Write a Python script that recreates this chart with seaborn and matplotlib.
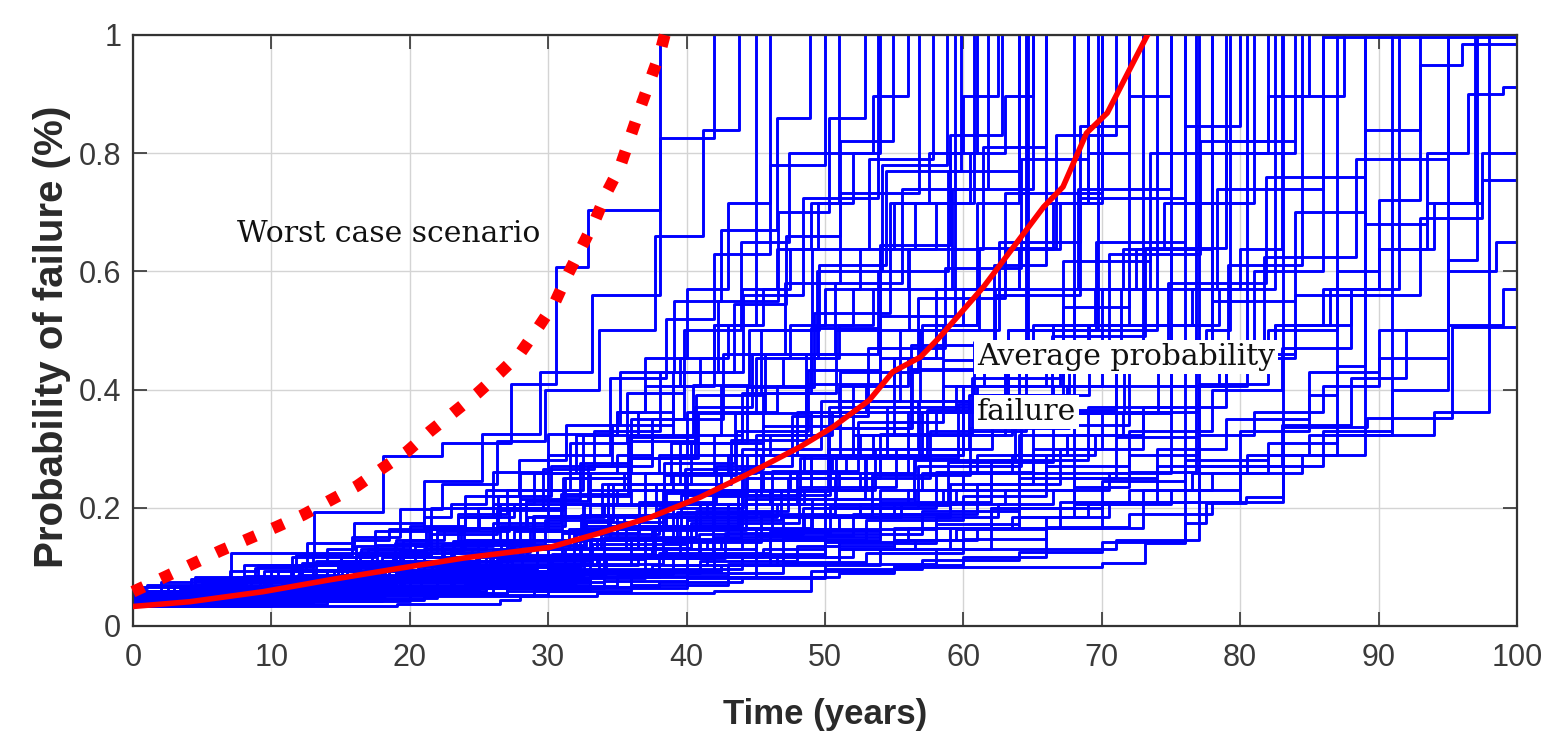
import numpy as np
import pandas as pd
import matplotlib
matplotlib.use("Agg")
import matplotlib.pyplot as plt
import seaborn as sns

# ---------------- data ----------------
x_ticks = [0, 10, 20, 30, 40, 50, 60, 70, 80, 90, 100]
y_ticks = [0, 0.2, 0.4, 0.6, 0.8, 1.0]
y_tick_labels = ["0", "0.2", "0.4", "0.6", "0.8", "1"]

avg_time = [0, 4.1, 9.4, 14.2, 19.1, 23.9, 27.0, 30.1, 33.7, 37.4, 41.0, 44.6, 48.2, 50.6,
            53.2, 54.9, 56.9, 58.3, 61.5, 65.8, 67.2, 68.9, 70.4, 72.0, 73.3]
avg_prob = [0.033, 0.041, 0.058, 0.078, 0.097, 0.115, 0.124, 0.133, 0.157, 0.184, 0.218, 0.259,
            0.303, 0.337, 0.382, 0.430, 0.455, 0.489, 0.575, 0.709, 0.743, 0.834, 0.868, 0.941, 1.0]

worst_time = [0, 2.4, 4.3, 6.3, 8.3, 10.4, 12.3, 14.2, 16.2, 18.1, 19.8, 21.5, 23.1, 24.9, 26.5,
              28.0, 29.4, 30.5, 31.4, 32.4, 33.4, 34.2, 35.2, 36.6, 38.1, 38.7]
worst_prob = [0.058, 0.084, 0.105, 0.127, 0.147, 0.168, 0.188, 0.212, 0.237, 0.268, 0.295, 0.330,
              0.360, 0.394, 0.428, 0.462, 0.509, 0.548, 0.594, 0.640, 0.687, 0.732, 0.777, 0.873,
              0.971, 1.025]

# simulated runs: (time of jump, new probability)
run01 = [(0,.065),(1,.07),(7.1,.124),(13.1,.193),(18.1,.288),(22.3,.31),(27.3,.41),(30.6,.608),(32.9,.704),(38.1,1.05)]
run02 = [(0,.06),(4.2,.08),(8,.103),(12.6,.14),(16,.175),(21,.245),(25.2,.324),(29.4,.43),(33.2,.56),(38.1,.826),(42,1.05)]
run03 = [(0,.055),(5.3,.079),(8.8,.098),(11.8,.12),(15.8,.15),(19.3,.198),(22.3,.24),(26.3,.313),(29.8,.4),(33.7,.5),(37.7,.66),(41.2,.84),(43.8,1.05)]
run04 = [(0,.05),(3.4,.062),(7.8,.08),(12.2,.106),(16.1,.135),(20,.17),(24,.22),(27.9,.28),(31.3,.34),(35.2,.43),(39.1,.55),(42.5,.67),(46.5,.86),(48.9,1.05)]
run05 = [(0,.06),(4.5,.078),(9,.1),(13,.124),(17.5,.16),(21.5,.2),(26,.26),(30,.324),(34.5,.42),(38.5,.52),(42,.63),(46,.78),(50,1.05)]
run06 = [(0,.045),(5.1,.061),(9.2,.078),(14.8,.11),(18.9,.14),(23.5,.19),(27,.23),(31.6,.31),(35.7,.394),(39.8,.5),(43.9,.65),(47.4,.8),(51,1.05)]
run07 = [(0,.05),(3.2,.06),(7.4,.076),(11.6,.095),(16.4,.126),(21.2,.165),(24.9,.2),(29.6,.265),(33.3,.33),(38.1,.43),(42.3,.55),(46.6,.7),(50.3,.86),(52.9,1.05)]
run08 = [(0,.04),(5.9,.056),(10.8,.076),(15.1,.1),(18.8,.123),(23.7,.165),(28,.215),(32.3,.276),(36,.35),(39.8,.43),(44.1,.56),(48.4,.725),(53.8,1.05)]
run09 = [(0,.055),(4.4,.07),(8.2,.085),(13.2,.11),(17.6,.137),(21.4,.165),(26.4,.22),(30.2,.27),(34.6,.34),(39,.43),(43.4,.545),(47.2,.66),(51.1,.82),(54.9,1.05)]
run10 = [(0,.045),(5.1,.06),(9.7,.076),(14.8,.1),(19.3,.128),(23.9,.165),(28.4,.212),(32.9,.27),(37.5,.35),(42.6,.46),(47.1,.58),(51.1,.733),(56.8,1.05)]
run11 = [(0,.05),(6.9,.07),(12.1,.095),(17.3,.123),(22,.16),(27.2,.2),(31.2,.25),(35.8,.32),(40.5,.407),(44.5,.5),(49.1,.638),(53.2,.79),(57.8,1.05)]
run12 = [(0,.04),(4.1,.05),(8.8,.065),(13.5,.084),(17.6,.105),(22.3,.137),(26.5,.17),(31.2,.22),(35.9,.285),(40.6,.37),(44.7,.46),(49.4,.6),(54.1,.78),(58.8,1.05)]
run13 = [(0,.055),(6,.074),(11.4,.095),(16.1,.12),(21.5,.155),(26.3,.197),(31.1,.25),(35.9,.313),(40.7,.39),(45.4,.5),(49.6,.61),(54.4,.77),(59.8,1.05)]
run14 = [(0,.035),(5.5,.047),(10.3,.062),(15.2,.081),(20.1,.105),(24.9,.138),(29.8,.18),(34.7,.24),(39.5,.31),(44.4,.405),(49.2,.53),(54.7,.715),(60.8,1.05)]
run15 = [(0,.05),(4.9,.063),(9.9,.08),(15.5,.106),(20.4,.135),(26,.175),(30.9,.224),(35.8,.285),(40.8,.36),(45.7,.46),(50.7,.58),(55.6,.74),(61.8,1.05)]
run16 = [(0,.045),(6.9,.063),(12.6,.084),(18.2,.11),(23.2,.14),(28.9,.186),(33.9,.24),(38.9,.31),(44,.394),(49,.505),(54,.645),(59,.83),(62.8,1.05)]
run17 = [(0,.04),(6.4,.055),(11.5,.07),(17.3,.095),(22.4,.123),(27.5,.16),(32.6,.205),(38.4,.276),(43.5,.36),(48.6,.46),(53.8,.6),(58.9,.77),(64,1.05)]
run18 = [(0,.035),(5.2,.046),(11,.062),(16.9,.084),(22.1,.11),(27.3,.143),(32.5,.187),(38.4,.255),(43.6,.33),(48.8,.433),(54,.57),(59.2,.74),(65,1.05)]
run19 = [(0,.05),(5.9,.065),(11.9,.087),(17.2,.11),(23.1,.143),(29,.186),(34.3,.24),(40.3,.31),(45.5,.395),(50.8,.5),(56.1,.638),(61.4,.81),(66,1.05)]
run20 = [(0,.04),(4.7,.05),(10.1,.065),(16.2,.087),(21.6,.11),(27,.145),(32.4,.187),(37.8,.24),(43.2,.315),(48.6,.41),(54,.525),(59.4,1.05)]
run21 = [(0,.035),(6.9,.049),(13.1,.066),(19.3,.09),(24.8,.117),(31,.158),(36.6,.21),(42.1,.27),(47.6,.355),(53.1,.47),(58.7,.605),(64.2,.79),(69,1.05)]
run22 = [(0,.045),(5.6,.058),(11.2,.074),(16.8,.095),(23.1,.126),(28.7,.16),(34.3,.205),(39.9,.265),(45.5,.338),(51.1,.43),(56.7,.555),(63,.733),(70,1.05)]
run23 = [(0,.04),(7.8,.056),(14.2,.076),(20.6,.1),(27,.136),(32.7,.176),(38.3,.228),(44,.3),(49.7,.38),(55.4,.5),(61.1,.64),(66.7,.83),(71,1.05)]
run24 = [(0,.035),(5,.044),(10.8,.058),(16.6,.076),(22.3,.1),(28.1,.13),(33.8,.17),(39.6,.221),(45.4,.29),(51.1,.38),(56.9,.5),(62.6,.65),(68.4,.846),(72,1.05)]
run25 = [(0,.045),(6.7,.06),(13.3,.08),(20,.105),(26.6,.137),(32.6,.17),(38.5,.225),(44.4,.289),(50.3,.37),(56.2,.475),(62.2,.61),(66,1.05)]
run26 = [(0,.035),(7.5,.049),(13.5,.064),(19.5,.084),(26.3,.113),(32.3,.147),(38.3,.19),(44.3,.25),(50.3,.335),(56.3,.433),(62.3,.57),(68.3,.74),(75,1.05)]
run27 = [(0,.04),(6.1,.052),(12.9,.07),(19,.089),(25.8,.12),(31.9,.155),(38,.2),(44.1,.26),(50.2,.335),(56.2,.435),(62.3,.56),(68.4,.725),(76,1.05)]
run28 = [(0,.035),(6.9,.047),(13.1,.062),(20,.084),(26.2,.11),(33.1,.147),(39.3,.193),(46.2,.262),(52.4,.345),(58.5,.45),(64.7,1.05)]
run29 = [(0,.04),(8.7,.057),(15.8,.076),(22.9,.1),(29.2,.13),(35.6,.17),(41.9,.22),(48.2,.285),(54.5,.37),(60.8,.48),(67.2,.617),(73.5,.8),(79,1.05)]
run30 = [(0,.035),(5.6,.045),(12,.058),(18.4,.076),(24.8,.1),(31.2,.13),(37.6,.17),(44,.221),(50.4,.29),(56.8,.38),(63.2,.5),(69.6,.65),(76,.846),(80,1.05)]
run31 = [(0,.04),(7.3,.054),(14.6,.073),(21.9,.097),(29.2,.13),(36.5,.17),(43.7,.228),(50.2,.3),(56.7,.38),(63.2,.5),(69.7,1.05)]
run32 = [(0,.035),(8.2,.049),(15.6,.066),(23,.09),(30.3,.122),(37.7,.163),(44.3,.214),(50.8,.285),(57.4,.366),(64,.48),(70.5,.63),(77.1,.82),(82,1.05)]
run33 = [(0,.04),(6.6,.052),(13.3,.068),(20.8,.089),(27.4,.117),(34,.15),(40.7,.195),(47.3,.25),(54,.324),(60.6,.42),(67.2,.54),(72,1.05)]
run34 = [(0,.033),(9.2,.047),(16.8,.064),(24.4,.088),(31.9,.12),(39.5,.165),(46.2,.215),(52.9,.285),(59.6,.375),(66.4,.49),(73.1,.64),(79,.82),(84,1.05)]
run35 = [(0,.038),(6,.047),(12.8,.062),(19.6,.08),(26.4,.105),(33.2,.138),(40,.18),(46.8,.23),(53.6,.3),(60.4,.39),(67.2,.5),(74,1.05)]
run36 = [(0,.035),(7.7,.048),(15.5,.066),(23.2,.09),(30.1,.113),(37,.147),(43.9,.19),(50.7,.25),(57.6,.33),(64.5,.433),(71.4,.57),(78.3,.74),(86,1.05)]
run37 = [(0,.04),(8.8,.055),(16.6,.074),(24.5,.1),(32.4,.132),(40.3,.175),(48.1,.235),(55.1,.3),(62.1,.39),(69.1,.51),(78,1.05)]
run38 = [(0,.033),(7.1,.043),(15.1,.058),(23.1,.08),(30.3,.105),(38.3,.142),(45.4,.188),(53.4,.255),(60.5,.335),(67.6,.44),(74.8,.58),(81.9,.76),(89,1.05)]
run39 = [(0,.035),(10,.05),(18.2,.068),(26.4,.093),(33.7,.12),(41.9,.165),(49.1,.215),(56.4,.28),(63.7,.366),(71,.48),(80.5,1.05)]
run40 = [(0,.037),(8.4,.05),(16.7,.068),(24.2,.087),(32.6,.117),(40.9,.155),(48.4,.2),(56.7,.27),(64.2,.36),(71.6,.47),(79.1,.61),(84.5,1.05)]
run41 = [(0,.034),(9.5,.048),(18,.065),(26.6,.088),(34.2,.115),(42.8,.157),(50.4,.205),(58.9,.277),(66.5,.36),(74.1,.475),(81.7,.625),(88.4,.79),(95,1.05)]
run42 = [(0,.033),(19.1,.037),(26.5,.044),(28,.05),(33.5,.056),(42,.06),(49,.083),(51,.09),(55,.1),(70,.106),(73.1,.14),(76,.174),(77.5,.208),(80.4,.218),(83.1,.337),(89.2,.352),(95.3,.506),(100,.845)]
run43 = [(0,.035),(5,.04),(11,.047),(16,.055),(22,.064),(28,.078),(33,.088),(39,.104),(45,.122),(50,.142),(56,.165),(62,.2),(68,.235),(72,.26),(76.8,1.05)]
run44 = [(0,.033),(7,.038),(14,.044),(21,.051),(29,.06),(36,.07),(43,.083),(50,.097),(57,.112),(64,.125),(70,.142),(76,1.05)]
run45 = [(0,.035),(6,.039),(13,.045),(20,.055),(27,.064),(34,.076),(40,.09),(47,.108),(53,.124),(60,.147),(66,.168),(72,.19),(78,.21),(83.1,1.05)]
run46 = [(0,.035),(8,.043),(15,.052),(22,.064),(30,.081),(37,.097),(44,.117),(51,.14),(58,.172),(64,.2),(70,.245),(76,.28),(82,.31),(87,1.05)]
run47 = [(0,.037),(9,.047),(17,.058),(25,.07),(33,.09),(41,.11),(48,.135),(55,.165),(62,.2),(68,.25),(74,.3),(79,.35),(85,.43),(90,.5),(95,.6),(98.5,.65)]
run48 = [(0,.04),(7,.048),(15,.06),(23,.075),(31,.095),(39,.118),(46,.145),(53,.18),(60,.22),(66,.27),(72,.33),(78,.4),(83,.47),(88,.56),(93,.69),(97.5,.755)]
run49 = [(0,.036),(8,.045),(16,.057),(24,.072),(32,.092),(40,.118),(47,.15),(54,.19),(61,.24),(67,.3),(73,.37),(79,.46),(84,.56),(89,.68),(93.5,.8),(96.5,.9),(99,.912)]
run50 = [(0,.04),(9,.052),(18,.068),(26,.088),(34,.115),(42,.15),(50,.2),(58,.26),(65,.34),(72,.44),(78,.55),(84,.7),(89,.84),(93,.95),(96,.985)]
run51 = [(0,.038),(6,.045),(14,.057),(22,.073),(30,.095),(38,.123),(46,.16),(54,.21),(62,.28),(69,.37),(75,.47),(81,.6),(86,.997)]
run52 = [(0,.034),(10,.042),(20,.052),(30,.065),(40,.082),(50,.105),(58,.13),(66,.165),(73,.21),(80,.27),(86,.33),(91,.4),(95,1.05)]
run53 = [(0,.04),(8,.05),(15,.062),(23,.078),(30,.097),(37,.12),(45,.152),(52,.19),(59,.24),(65,.3),(70,.36),(75,.43),(77.5,.5),(79.3,1.05)]
run54 = [(0,.036),(9,.044),(17,.055),(26,.068),(35,.085),(43,.105),(51,.13),(59,.165),(67,.21),(74,.27),(80,.33),(85,.39),(87,.44),(89,1.05)]
run55 = [(0,.039),(8,.048),(17,.06),(25,.075),(33,.095),(42,.12),(50,.155),(57,.195),(64,.25),(71,.32),(77,.41),(82,.5),(87,.6),(90,.72),(93,1.05)]
run56 = [(0,.035),(9,.043),(18,.053),(27,.066),(36,.083),(45,.104),(54,.13),(62,.165),(70,.21),(77,.27),(83,.34),(88,.42),(92,.5),(95,.62),(97.1,1.05)]
run57 = [(0,.053),(3,.059),(5,.066),(8,.074),(11,.083),(13,.093),(16,.104),(19,.117),(21,.131),(24,.146),(27,.164),(30,.206),(33,.258),(36,.323),(39,.406),(42,.509),(45,1.05)]
run58 = [(0,.059),(2,.066),(4.5,.074),(7,.083),(9.5,.093),(12,.104),(14,.117),(16.5,.131),(19,.146),(21.5,.164),(24,.184),(26.5,.206),(29,.258),(32,.323),(35,.362),(37,.454),(40,.57),(43,.715),(46,1.05)]
run59 = [(0,.047),(3.5,.053),(7,.059),(10,.066),(13.5,.074),(17,.083),(20,.093),(23.5,.104),(27,.117),(30,.131),(33,.146),(36.5,.164),(40,.184),(43,.206),(46,.23),(49,.289),(52,.362),(55,.454),(58,.57),(61,.715),(64,1.05)]
run60 = [(0,.042),(4,.047),(8,.053),(12,.059),(15,.066),(19,.074),(22,.083),(26,.093),(29,.104),(33,.117),(36,.131),(40,.146),(43,.164),(47,.184),(50,.206),(54,.23),(57,.258),(61,.289),(64,.323),(68,.362),(71,.406),(75,.454),(78,1.05)]
run61 = [(0,.053),(2.5,.059),(5.5,.066),(8.5,.074),(11,.083),(14,.093),(17,.104),(19.5,.117),(22.5,.131),(25.5,.146),(28,.164),(31,.184),(34,.206),(37,.23),(40,.258),(43,.289),(46,.323),(49,.362),(52,.406),(55,.454),(58,.509),(61,.57),(64,.638),(67,.715),(70,1.05)]
run62 = [(0,.038),(5,.042),(10,.047),(14,.053),(19,.059),(24,.066),(28,.074),(33,.083),(37,.093),(42,.104),(46,.117),(51,.131),(55,.146),(60,.164),(64,.184),(69,.206),(73,.23),(78,.258),(82,.289),(87,.323),(91,1.05)]
run63 = [(0,.047),(2,.053),(5,.059),(7.5,.066),(10,.074),(12,.083),(14.5,.093),(17,.104),(19,.117),(21.5,.131),(24,.146),(26,.164),(28.5,.184),(31,.206),(33,.23),(35.5,.258),(38,.289),(40,.323),(42.5,.362),(45,.406),(47,.454),(49.5,.509),(52,.57),(54,.638),(56.5,.715),(59,.8),(61,1.05)]
run64 = [(0,.042),(3,.047),(6.5,.053),(10,.059),(13,.066),(16.5,.074),(20,.083),(23,.093),(26.5,.104),(30,.117),(33,.131),(36.5,.146),(40,.164),(43,.184),(46.5,.206),(50,.23),(53,.258),(56.5,.289),(60,.323),(63,.362),(66.5,.406),(70,.454),(73,.509),(76.5,.57),(80,.638),(83,1.05)]
run65 = [(0,.059),(3,.066),(6,.074),(9,.083),(12,.093),(15,.104),(18,.117),(21,.131),(24,.146),(27,.164),(30,.184),(33,.206),(36,.23),(39,.258),(42,.289),(45,.323),(48,.362),(51,.406),(54,.454),(57,.509),(60,.57),(63,.638),(66,.715),(69,.8),(72,.897),(75,1.05)]
run66 = [(0,.038),(4.5,.042),(9.5,.047),(14.5,.053),(19,.059),(23.5,.066),(28.5,.074),(33,.083),(38,.093),(42.5,.104),(47,.117),(52,.131),(56.5,.146),(61,.164),(66,.184),(70.5,.206),(75,.23),(80,.258),(84.5,.289),(89,.323),(94,.362),(98,1.05)]
run67 = [(0,.053),(4,.059),(7,.066),(11,.074),(14,.083),(18,.093),(21,.104),(25,.117),(28,.131),(32,.146),(35,.164),(39,.184),(42,.206),(46,.23),(49,.258),(53,.289),(56,.323),(60,.362),(63,.406),(67,.454),(70,.509),(73,1.05)]
run68 = [(0,.047),(3,.053),(6,.059),(9.5,.066),(12.5,.074),(15.5,.083),(19,.093),(22,.104),(25,.117),(28.5,.131),(31.5,.146),(34.5,.164),(38,.184),(41,.206),(44,.23),(47.5,.258),(50.5,.289),(53.5,.323),(57,.362),(60,.406),(63,.454),(66.5,.509),(69.5,.57),(72.5,.638),(76,.715),(79,.8),(82,.897),(85,1.05)]
run69 = [(0,.042),(2.5,.047),(5,.053),(8,.059),(10.5,.066),(13,.074),(16,.083),(18.5,.093),(21,.104),(24,.117),(26.5,.131),(29,.146),(32,.164),(34.5,.184),(37,.206),(40,.23),(42.5,.258),(45,.289),(48,.323),(50.5,.362),(53,.406),(56,.454),(58.5,.509),(61,.57),(64,.638),(66.5,.715),(69,1.05)]
run70 = [(0,.034),(5,.038),(11,.042),(16,.047),(22,.053),(27,.059),(33,.066),(38,.074),(44,.083),(49,.093),(55,.104),(60,.117),(66,.131),(71,.146),(77,1.05)]
run71 = [(0,.038),(3.5,.042),(7,.047),(11,.053),(14.5,.059),(18,.066),(22,.074),(25.5,.083),(29,.093),(33,.104),(36.5,.117),(40,.131),(44,.146),(47.5,.164),(51,.184),(55,.206),(58.5,.23),(62,.258),(66,.289),(69.5,.323),(73,.362),(77,.406),(80.5,.454),(84,.509),(88,.57),(91.5,1.05)]
run72 = [(0,.053),(2,.059),(4,.066),(6.5,.074),(8.5,.083),(10.5,.093),(13,.104),(15,.117),(17,.131),(19.5,.146),(21.5,.164),(23.5,.184),(26,.206),(28,.23),(30,.258),(32.5,.289),(34.5,.323),(36.5,.362),(39,.406),(41,.454),(43,.509),(45.5,.57),(47.5,.638),(49.5,.715),(52,.8),(54,1.05)]
run73 = [(0,.042),(3.5,.047),(7.5,.053),(11,.059),(15,.066),(18.5,.074),(22.5,.083),(26,.093),(30,.104),(33.5,.117),(37.5,.131),(41,.146),(45,.164),(48.5,.184),(52.5,.206),(56,.23),(60,.258),(63.5,.289),(67.5,.323),(71,.362),(75,.406),(78.5,.454),(82.5,.509),(86,.57),(90,.638),(93.5,.715),(97.5,.8)]
run74 = [(0,.047),(4.5,.053),(8.5,.059),(13,.066),(17,.074),(21.5,.083),(25.5,.093),(30,.104),(34,.117),(38.5,.131),(42.5,.146),(47,.164),(51,.184),(55.5,.206),(59.5,.23),(64,.258),(68,1.05)]
run75 = [(0,.059),(3.5,.066),(7,.074),(10.5,.083),(14,.093),(17.5,.104),(21,.117),(24.5,.131),(28,.146),(31.5,.164),(35,.184),(38.5,.206),(42,.23),(45.5,.258),(49,.289),(52.5,.323),(56,.362),(59.5,.406),(63,.454),(66.5,.509),(70,.57),(73.5,.638),(77,.715),(80.5,.8),(84,.897),(87.5,1.05)]
run76 = [(0,.038),(3,.042),(6,.047),(9,.053),(12,.059),(15,.066),(18,.074),(21,.083),(24,.093),(27,.104),(30,.117),(33,.131),(36,.146),(39,.164),(42,.184),(45,.206),(48,.23),(51,.258),(54,.289),(57,.323),(60,.362),(63,.406),(66,.454),(69,.509),(72,.57),(75,.638),(78,.715),(81,1.05)]
run77 = [(0,.047),(2.5,.053),(6,.059),(9,.066),(12.5,.074),(15.5,.083),(19,.093),(22,.104),(25.5,.117),(28.5,.131),(32,.146),(35,.164),(38.5,.184),(41.5,.206),(45,.23),(48,.258),(51.5,.289),(54.5,.323),(58,.362),(61,.406),(64.5,1.05)]
run78 = [(0,.034),(4,.038),(8.5,.042),(12.5,.047),(17,.053),(21,.059),(25.5,.066),(29.5,.074),(34,.083),(38,.093),(42.5,.104),(46.5,.117),(51,.131),(55,.146),(59.5,.164),(63.5,.184),(68,.206),(72,.23),(76.5,.258),(80.5,.289),(85,.323),(89,1.05)]
run79 = [(0,.053),(3,.059),(6.5,.066),(9.5,.074),(13,.083),(16,.093),(19.5,.104),(22.5,.117),(26,.131),(29,.146),(32.5,.164),(35.5,.184),(39,.206),(42,.23),(45.5,.258),(48.5,.289),(52,.323),(55,.362),(58.5,.406),(61.5,.454),(65,.509),(68,.57),(71.5,.638),(74.5,.715),(78,1.05)]
run80 = [(0,.042),(4,.047),(7.5,.053),(11.5,.059),(15,.066),(19,.074),(22.5,.083),(26.5,.093),(30,.104),(34,.117),(37.5,.131),(41.5,.146),(45,.164),(49,.184),(52.5,.206),(56.5,.23),(60,.258),(64,.289),(67.5,.323),(71.5,.362),(75,.406),(79,.454),(82.5,.509),(86.5,.57),(90,.638),(94,.715),(97,1.05)]
run81 = [(0,.066),(2,.074),(4.5,.083),(7,.093),(9,.104),(11.5,.117),(14,.131),(16,.146),(18.5,.164),(21,.184),(23,.206),(25.5,.23),(28,.258),(30,.289),(32.5,.323),(35,.362),(37,.406),(39.5,.454),(42,.509),(44,.57),(46.5,.638),(49,.715),(51,.8),(53.5,.897),(56,1.05)]
run82 = [(0,.047),(5,.053),(9,.059),(14,.066),(18,.074),(23,.083),(27,.093),(32,.104),(36,.117),(41,.131),(45,.146),(50,.164),(54,.184),(59,.206),(63,.23),(68,.258),(72,.289),(77,.323),(81,.362),(86,.406),(90,.454),(95,.509),(99,.57)]
run83 = [(0,.042),(2,.047),(4.5,.053),(7,.059),(9,.066),(11.5,.074),(14,.083),(16,.093),(18.5,.104),(21,.117),(23,.131),(25.5,.146),(28,.164),(30,.184),(32.5,.206),(35,.23),(37,.258),(39.5,.289),(42,.323),(44,.362),(46.5,.406),(49,.454),(51,.509),(53.5,.57),(56,.638),(58,.715),(60.5,.8),(63,.897),(65,1.05)]
run84 = [(0,.038),(4,.042),(8,.047),(12.5,.053),(16.5,.059),(20.5,.066),(25,.074),(29,.083),(33,.093),(37.5,.104),(41.5,.117),(45.5,.131),(50,.146),(54,.164),(58,.184),(62.5,.206),(66.5,.23),(70.5,.258),(75,1.05)]
run85 = [(0,.053),(3.5,.059),(7.5,.066),(11,.074),(15,.083),(18.5,.093),(22.5,.104),(26,.117),(30,.131),(33.5,.146),(37.5,.164),(41,.184),(45,.206),(48.5,.23),(52.5,.258),(56,.289),(60,.323),(63.5,.362),(67.5,.406),(71,.454),(75,.509),(78.5,.57),(82.5,1.05)]
run86 = [(0,.059),(2.5,.066),(5,.074),(7.5,.083),(10,.093),(12.5,.104),(15,.117),(17.5,.131),(20,.146),(22.5,.164),(25,.184),(27.5,.206),(30,.23),(32.5,.258),(35,.289),(37.5,.323),(40,.362),(42.5,.406),(45,.454),(47.5,.509),(50,.57),(52.5,.638),(55,.715),(57.5,.8),(60,.897),(62.5,1.05)]

runs = [run01, run02, run03, run04, run05, run06, run07, run08, run09, run10,
        run11, run12, run13, run14, run15, run16, run17, run18, run19, run20,
        run21, run22, run23, run24, run25, run26, run27, run28, run29, run30,
        run31, run32, run33, run34, run35, run36, run37, run38, run39, run40,
        run41, run42, run43, run44, run45, run46, run47, run48, run49, run50,
        run51, run52, run53, run54, run55, run56, run57, run58, run59, run60,
        run61, run62, run63, run64, run65, run66, run67, run68, run69, run70,
        run71, run72, run73, run74, run75, run76, run77, run78, run79, run80,
        run81, run82, run83, run84, run85, run86]

# ---------------- build long table ----------------
rows = []
for i, r in enumerate(runs):
    pts = list(r)
    if pts[-1][0] < 100:
        pts.append((100, pts[-1][1]))
    for t, p in pts:
        rows.append((i, t, p))
df = pd.DataFrame(rows, columns=["run", "time", "prob"])

# ---------------- figure ----------------
plt.rcParams["font.family"] = ["Liberation Sans", "DejaVu Sans"]
fig = plt.figure(figsize=(15.46, 7.38), dpi=100)
ax = fig.add_axes([0.0860, 0.1518, 0.8952, 0.8008])

sns.lineplot(data=df, x="time", y="prob", units="run", estimator=None,
             color="#0000ff", lw=2.1, drawstyle="steps-post", legend=False, ax=ax)

sns.lineplot(x=avg_time, y=avg_prob, color="#ff0000", lw=4.0, estimator=None, ax=ax)
ax.lines[-1].set_zorder(4)

sns.lineplot(x=worst_time, y=worst_prob, color="#ff0000", lw=8.5, estimator=None, ax=ax)
wl = ax.lines[-1]
wl.set_linestyle((0, (1.0, 1.6)))
wl.set_dash_capstyle("butt")
wl.set_clip_on(False)
wl.set_zorder(5)

ax.set_xlim(0, 100)
ax.set_ylim(0, 1)
ax.set_xticks(x_ticks)
ax.set_xticklabels([str(v) for v in x_ticks])
ax.set_yticks(y_ticks)
ax.set_yticklabels(y_tick_labels)

ax.grid(True, color="#d4d4d4", lw=1.0)
ax.set_axisbelow(True)
for s in ax.spines.values():
    s.set_color("#333333")
    s.set_linewidth(1.6)
    s.set_zorder(3)

ax.tick_params(axis="both", direction="in", length=10, width=1.2, top=True, right=True,
               labelsize=22, labelcolor="#3a3a3a", color="#333333")
ax.tick_params(axis="x", pad=12)
ax.tick_params(axis="y", pad=8.5)

ax.set_xlabel("Time (years)", fontsize=25, fontweight="bold", color="#2a2a2a")
ax.set_ylabel("Probability of failure (%)", fontsize=29, fontweight="bold", color="#2a2a2a")
ax.xaxis.set_label_coords(0.5, -0.122)
ax.yaxis.set_label_coords(-0.0448, 0.49)

ax.text(7.5, 0.650, "Worst case scenario", family="DejaVu Serif", fontsize=21.5,
        va="baseline", ha="left", color="#111111", zorder=6)
ax.text(61.0, 0.4416, "Average probability", family="DejaVu Serif", fontsize=21.5,
        va="baseline", ha="left", color="#111111", zorder=6,
        bbox=dict(facecolor="white", edgecolor="none", pad=2))
ax.text(61.0, 0.3486, "failure", family="DejaVu Serif", fontsize=21.5,
        va="baseline", ha="left", color="#111111", zorder=6,
        bbox=dict(facecolor="white", edgecolor="none", pad=2))

fig.savefig("out.png", dpi=100)
